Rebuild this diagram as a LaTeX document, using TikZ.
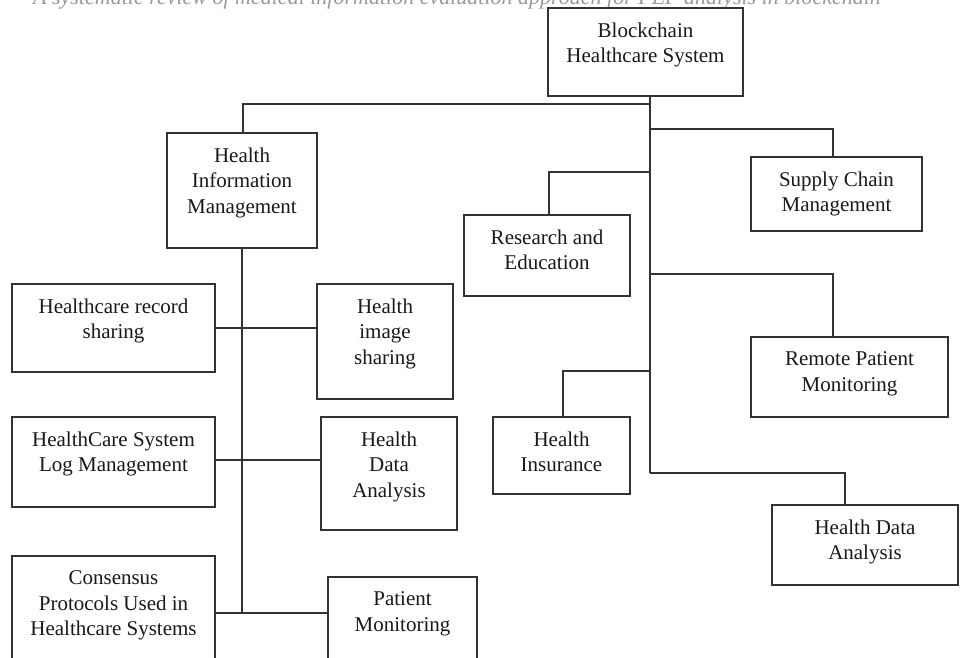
\documentclass[tikz,border=0pt]{standalone}
\usepackage{fontspec}
\setmainfont{Liberation Serif}
\begin{document}
\begin{tikzpicture}[x=1pt,y=-1pt,
  boxst/.style={draw=black!80, line width=1.8pt, fill=white, inner sep=0pt, rectangle},
  lbl/.style={inner sep=0pt, align=center, font=\fontsize{21}{25.6}\selectfont, text=black!90},
  conn/.style={draw=black!80, line width=1.6pt}]
\useasboundingbox (0,0) rectangle (961,658);
\clip (0,0) rectangle (961,658);

% box with its top-aligned caption: name, x1, y1, x2, y2, text
\newcommand\mkbox[6]{%
  \node[boxst, minimum width={(#4)-(#2)}, minimum height={(#5)-(#3)}]
    (#1) at ({((#2)+(#4))/2},{((#3)+(#5))/2}) {};
  \node[lbl, anchor=north] (#1-t) at ({((#2)+(#4))/2},{(#3)+14.5}) {#6};}

% running head of the page
\node[anchor=base west, inner sep=0pt, text=black!40,
  font=\fontsize{22}{26}\selectfont\itshape] (head) at (33,5)
  {A systematic review of medical information evaluation approach for PEP analysis in blockchain};

% connectors first, boxes drawn over them
\draw[conn] (650,96) -- (650,473);
\draw[conn] (650,104) -- (243,104) -- (243,133);
\draw[conn] (650,129) -- (833,129) -- (833,157);
\draw[conn] (650,172) -- (549,172) -- (549,215);
\draw[conn] (650,274) -- (833,274) -- (833,337);
\draw[conn] (650,371) -- (563,371) -- (563,417);
\draw[conn] (650,473) -- (845,473) -- (845,505);
\draw[conn] (242,248) -- (242,613);
\draw[conn] (215,328) -- (317,328);
\draw[conn] (215,460) -- (321,460);
\draw[conn] (215,613) -- (328,613);

\mkbox{root}{548}{8}{743}{96}{Blockchain\\Healthcare System}
\mkbox{him}{167}{133}{317}{248}{Health\\Information\\Management}
\mkbox{sc}{751}{157}{922}{231}{Supply Chain\\Management}
\mkbox{re}{464}{215}{630}{296}{Research and\\Education}
\mkbox{hrs}{12}{284}{215}{372}{Healthcare record\\sharing}
\mkbox{his}{317}{284}{453}{399}{Health\\image\\sharing}
\mkbox{rpm}{751}{337}{948}{417}{Remote Patient\\Monitoring}
\mkbox{hsl}{12}{417}{215}{507}{HealthCare System\\Log Management}
\mkbox{hdl}{321}{417}{457}{530}{Health\\Data\\Analysis}
\mkbox{hi}{493}{417}{630}{494}{Health\\Insurance}
\mkbox{hdr}{772}{505}{958}{585}{Health Data\\Analysis}
\mkbox{cp}{12}{556}{215}{684}{Consensus\\Protocols Used in\\Healthcare Systems}
\mkbox{pm}{328}{577}{477}{684}{Patient\\Monitoring}
\end{tikzpicture}
\end{document}
